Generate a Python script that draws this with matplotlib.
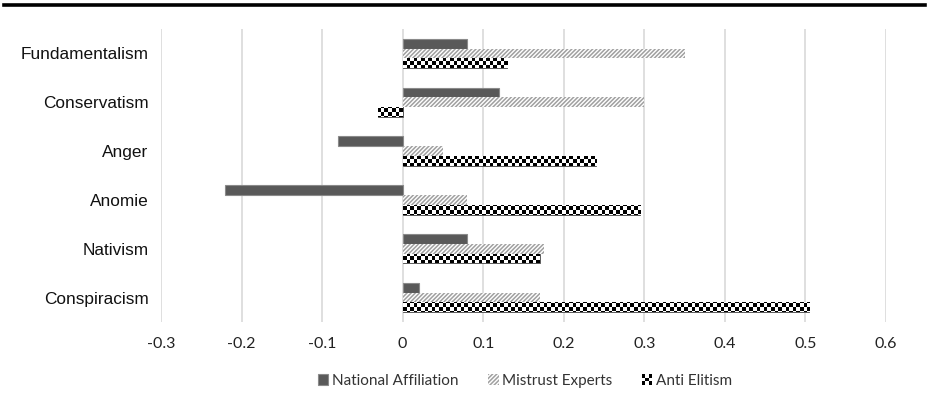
import numpy as np
import matplotlib
matplotlib.use("Agg")
import matplotlib.pyplot as plt
from matplotlib.patches import Rectangle
from matplotlib.legend_handler import HandlerBase
from matplotlib.lines import Line2D

# ---- data ----
categories = ["Fundamentalism", "Conservatism", "Anger", "Anomie", "Nativism", "Conspiracism"]
national_affiliation = [0.08, 0.12, -0.08, -0.22, 0.08, 0.02]
mistrust_experts = [0.35, 0.30, 0.05, 0.08, 0.175, 0.17]
anti_elitism = [0.13, -0.03, 0.24, 0.295, 0.17, 0.505]
series_names = ["National Affiliation", "Mistrust Experts", "Anti Elitism"]
x_ticks = [-0.3, -0.2, -0.1, 0, 0.1, 0.2, 0.3, 0.4, 0.5, 0.6]
x_tick_labels = ["-0.3", "-0.2", "-0.1", "0", "0.1", "0.2", "0.3", "0.4", "0.5", "0.6"]

W, H, DPI = 929, 413, 100
fig = plt.figure(figsize=(W / DPI, H / DPI), dpi=DPI)
ax = fig.add_axes([161 / W, 1 - 322 / H, (886 - 161) / W, (322 - 29) / H])

xlim = (-0.3, 0.6)
n = len(categories)
ylim = (n - 0.5, -0.5)
ax.set_xlim(*xlim)
ax.set_ylim(*ylim)

bar_h = 0.2
y = np.arange(n)

dark = "#595959"
ax.barh(y - bar_h, national_affiliation, height=bar_h, color=dark,
        edgecolor="#8a8a8a", linewidth=0.8, zorder=3, label=series_names[0])

plt.rcParams["hatch.linewidth"] = 1.1
ax.barh(y, mistrust_experts, height=bar_h, facecolor="white",
        edgecolor="#a0a0a0", linewidth=0, hatch="////////", zorder=3,
        label=series_names[1])

anti_bars = ax.barh(y + bar_h, anti_elitism, height=bar_h, facecolor="white",
                    edgecolor="#404040", linewidth=0.6, zorder=3,
                    label=series_names[2])

# checkerboard fill for the anti-elitism bars
ax_px_w = 886 - 161
ax_px_h = 322 - 29
cell = 3.6
nx = int(ax_px_w / cell)
ny = int(ax_px_h / cell)
checker = (np.add.outer(np.arange(ny), np.arange(nx)) % 2).astype(float)
for b in anti_bars:
    im = ax.imshow(checker, cmap="gray", vmin=0, vmax=1, interpolation="nearest",
                   extent=(xlim[0], xlim[1], ylim[0], ylim[1]), aspect="auto",
                   zorder=3.5)
    im.set_clip_path(b)
ax.set_xlim(*xlim)
ax.set_ylim(*ylim)

# axes styling
for s in ax.spines.values():
    s.set_visible(False)
ax.set_xticks(x_ticks)
ax.set_xticklabels(x_tick_labels, fontfamily="Lato", fontsize=11.5, color="#222222")
ax.set_yticks(y)
ax.set_yticklabels(categories, fontfamily="Liberation Sans", fontsize=12.4, color="#111111")
ax.tick_params(axis="both", length=0)
ax.tick_params(axis="x", pad=11)
ax.tick_params(axis="y", pad=9)
ax.grid(axis="x", color="#d9d9d9", linewidth=1.2, zorder=0)
ax.set_axisbelow(True)


class CheckerHandler(HandlerBase):
    def create_artists(self, legend, orig_handle, xdescent, ydescent, width,
                       height, fontsize, trans):
        s = min(width, height)
        x0 = xdescent + width - s
        y0 = -ydescent
        arts = [Rectangle((x0, y0), s, s, facecolor="white", edgecolor="none",
                          transform=trans)]
        c = s / 3
        for i in range(3):
            for j in range(3):
                if (i + j) % 2 == 0:
                    arts.append(Rectangle((x0 + i * c, y0 + j * c), c, c,
                                          facecolor="black", edgecolor="none",
                                          transform=trans))
        return arts


handles, labels = ax.get_legend_handles_labels()
leg = fig.legend(handles, labels, loc="center", bbox_to_anchor=(525 / W, 1 - 381 / H),
                 ncol=3, frameon=False, prop={"family": "Lato", "size": 11},
                 handlelength=0.7, handleheight=0.7, handletextpad=0.25,
                 columnspacing=1.9,
                 handler_map={anti_bars: CheckerHandler()})
for t in leg.get_texts():
    t.set_color("#333333")

# rule across the top
fig.add_artist(Line2D([4 / W, 925 / W], [1 - 5 / H, 1 - 5 / H], color="black",
                      linewidth=2.6, transform=fig.transFigure))

fig.savefig("out.png", dpi=DPI)
